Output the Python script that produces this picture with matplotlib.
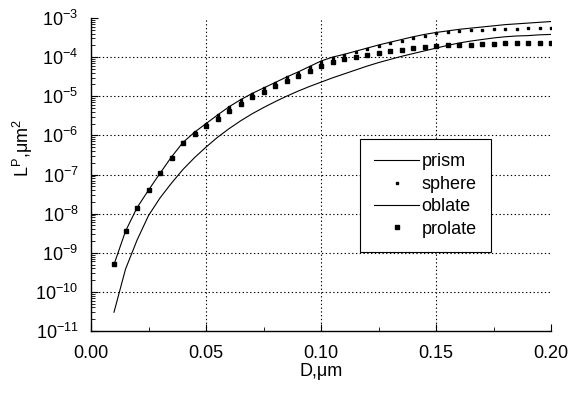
import numpy as np
import matplotlib
matplotlib.use("Agg")
import matplotlib.pyplot as plt
from matplotlib.ticker import LogLocator, FixedLocator, FuncFormatter, NullFormatter

plt.rcParams['font.family'] = ['Liberation Sans', 'DejaVu Sans']
plt.rcParams['mathtext.fontset'] = 'custom'
plt.rcParams['mathtext.rm'] = 'Liberation Sans'
plt.rcParams['mathtext.it'] = 'Liberation Sans:italic'
plt.rcParams['mathtext.default'] = 'regular'

# Diameter grid (um)
D = [0.010, 0.015, 0.020, 0.025, 0.030, 0.035, 0.040, 0.045, 0.050, 0.055,
     0.060, 0.065, 0.070, 0.075, 0.080, 0.085, 0.090, 0.095, 0.100, 0.105,
     0.110, 0.115, 0.120, 0.125, 0.130, 0.135, 0.140, 0.145, 0.150, 0.155,
     0.160, 0.165, 0.170, 0.175, 0.180, 0.185, 0.190, 0.195, 0.200]

# log10 of L^P (um^2)
log_prism = [-9.30, -8.45, -7.85, -7.40, -6.97, -6.55, -6.18, -5.92, -5.70, -5.48,
             -5.27, -5.09, -4.93, -4.79, -4.65, -4.51, -4.38, -4.24, -4.10, -4.00,
             -3.93, -3.85, -3.77, -3.69, -3.62, -3.55, -3.48, -3.42, -3.37, -3.33,
             -3.29, -3.26, -3.23, -3.20, -3.17, -3.15, -3.13, -3.11, -3.09]
log_sphere = [-9.30, -8.45, -7.85, -7.40, -6.97, -6.55, -6.18, -5.92, -5.70, -5.48,
              -5.27, -5.09, -4.93, -4.80, -4.66, -4.52, -4.40, -4.26, -4.12, -4.02,
              -3.95, -3.87, -3.80, -3.72, -3.65, -3.58, -3.51, -3.45, -3.39, -3.35,
              -3.33, -3.31, -3.30, -3.29, -3.28, -3.27, -3.26, -3.26, -3.25]
log_oblate = [-10.52, -9.42, -8.68, -8.05, -7.60, -7.22, -6.87, -6.57, -6.30, -6.05,
              -5.83, -5.63, -5.45, -5.29, -5.14, -5.00, -4.87, -4.75, -4.64, -4.53,
              -4.43, -4.33, -4.23, -4.14, -4.06, -3.98, -3.91, -3.84, -3.77, -3.70,
              -3.64, -3.59, -3.55, -3.51, -3.48, -3.46, -3.45, -3.43, -3.42]
log_prolate = [-9.30, -8.45, -7.85, -7.40, -6.97, -6.57, -6.20, -5.97, -5.77, -5.57,
               -5.37, -5.19, -5.03, -4.88, -4.74, -4.61, -4.48, -4.35, -4.22, -4.13,
               -4.05, -3.99, -3.94, -3.90, -3.85, -3.81, -3.77, -3.74, -3.71, -3.70,
               -3.69, -3.68, -3.67, -3.66, -3.65, -3.65, -3.64, -3.64, -3.63]

x_ticks = [0.00, 0.05, 0.10, 0.15, 0.20]
x_tick_labels = ["0.00", "0.05", "0.10", "0.15", "0.20"]
y_exponents = [-11, -10, -9, -8, -7, -6, -5, -4, -3]

D = np.array(D)
prism = 10.0 ** np.array(log_prism)
sphere = 10.0 ** np.array(log_sphere)
oblate = 10.0 ** np.array(log_oblate)
prolate = 10.0 ** np.array(log_prolate)

fig = plt.figure(figsize=(5.72, 3.94), dpi=100)
ax = fig.add_axes([91/572, 1 - 331/394, 460/572, 313/394])

ax.set_yscale('log')
ax.set_xlim(0, 0.2)
ax.set_ylim(1e-11, 1e-3)

# grid (dotted), interior only
for e in y_exponents[1:-1]:
    ax.axhline(10.0 ** e, color='black', lw=0.8, ls=(0, (1.2, 2.2)), zorder=0)
for xt in x_ticks[1:-1]:
    ax.axvline(xt, color='black', lw=0.8, ls=(0, (1.2, 2.2)), zorder=0)

ax.plot(D, prism, color='black', lw=0.8, label='prism')
ax.plot(D, sphere, ls='none', marker='s', ms=1.8, color='black', label='sphere')
ax.plot(D, oblate, color='black', lw=0.8, label='oblate')
ax.plot(D, prolate, ls='none', marker='s', ms=2.2, color='black', label='prolate')

for s in ['top', 'right']:
    ax.spines[s].set_visible(False)
for s in ['left', 'bottom']:
    ax.spines[s].set_linewidth(1.0)

ax.xaxis.set_major_locator(FixedLocator(x_ticks))
ax.set_xticklabels(x_tick_labels)
ax.xaxis.set_minor_locator(FixedLocator([0.025, 0.075, 0.125, 0.175]))
ax.yaxis.set_major_locator(FixedLocator([10.0 ** e for e in y_exponents]))
ax.yaxis.set_major_formatter(FuncFormatter(lambda v, p: r'$10^{%d}$' % round(np.log10(v))))
ax.yaxis.set_minor_locator(LogLocator(base=10, subs=np.arange(2, 10), numticks=20))
ax.yaxis.set_minor_formatter(NullFormatter())

ax.tick_params(which='both', direction='in', top=False, right=False, labelsize=13)
ax.tick_params(which='major', length=5, width=0.8)
ax.tick_params(which='minor', length=3, width=0.6)
ax.tick_params(axis='x', which='major', pad=10)
ax.tick_params(axis='y', which='major', pad=9)

ax.set_xlabel('D,\u03bcm', fontsize=13)
ax.xaxis.set_label_coords(0.5, -0.102)
ax.xaxis.label.set_va('top')
ax.set_ylabel('L$^{P}$,\u03bcm$^{2}$', fontsize=13)
ax.yaxis.set_label_coords(-0.122, 0.585)

leg = ax.legend(loc='upper left', bbox_to_anchor=((360 - 91) / 460, (331 - 139) / 313),
                fontsize=13, frameon=True, fancybox=False, edgecolor='black',
                framealpha=1, borderpad=0.8, labelspacing=0.3, handlelength=2.45,
                handletextpad=0.15, borderaxespad=0)
leg.get_frame().set_linewidth(0.8)

fig.savefig('out.png', dpi=100)
